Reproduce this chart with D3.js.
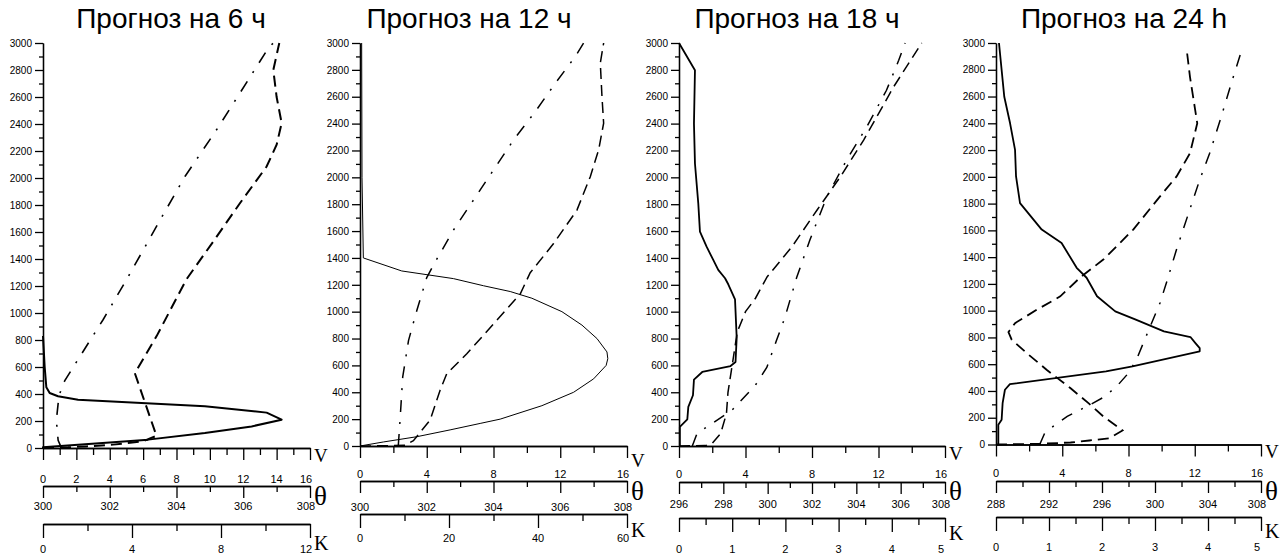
<!DOCTYPE html>
<html>
<head>
<meta charset="utf-8">
<script src="https://cdn.jsdelivr.net/npm/d3@7"></script>
<style>
  body { margin: 0; background: #fff; }
  svg { display: block; }
</style>
</head>
<body>
<svg width="1287" height="558"></svg>
<script>
var svg = d3.select("svg");

var titles = ["Прогноз на 6 ч", "Прогноз на 12 ч", "Прогноз на 18 ч", "Прогноз на 24 h"];

// height axis (m)
var heightLabels = [0, 200, 400, 600, 800, 1000, 1200, 1400, 1600, 1800, 2000, 2200, 2400, 2600, 2800, 3000];
var heightMinor = [100, 300, 500, 700, 900, 1100, 1300, 1500, 1700, 1900, 2100, 2300, 2500, 2700, 2900];

// bottom scales: labels and minor tick step
var vLabels = [[0, 2, 4, 6, 8, 10, 12, 14, 16], [0, 4, 8, 12, 16], [0, 4, 8, 12, 16], [0, 4, 8, 12, 16]];
var vStep = [1, 2, 2, 2];
var thetaLabels = [[300, 302, 304, 306, 308], [300, 302, 304, 306, 308], [296, 298, 300, 302, 304, 306, 308], [288, 292, 296, 300, 304, 308]];
var thetaStep = [1, 1, 1, 2];
var kLabels = [[0, 4, 8, 12], [0, 20, 40, 60], [0, 1, 2, 3, 4, 5], [0, 1, 2, 3, 4, 5]];
var kStep = [2, 10, 0.5, 0.5];

// 6 h
var p1SpeedH = [0, 5, 62, 111, 160, 210, 262, 309, 358, 383, 407, 450, 600, 830];
var p1Speed = [0, 0, 6.3, 9.7, 12.5, 14.3, 13.4, 9.7, 2.1, 0.9, 0.4, 0.2, 0.1, 0];
var p1ThetaH = [0, 5, 12, 25, 50, 90, 555, 575, 827, 1250, 1529, 1813, 2085, 2246, 2407, 2600, 2800, 3000];
var p1Theta = [300, 300.75, 301.3, 302.1, 303, 303.4, 302.75, 302.8, 303.4, 304.3, 305.1, 305.9, 306.7, 307, 307.15, 307, 306.9, 307.08];
var p1KH = [0, 57, 205, 328, 402, 500, 950, 1269, 1665, 2011, 2357, 2629, 2963, 3000];
var p1K = [0.83, 0.68, 0.6, 0.68, 0.75, 0.98, 2.7, 3.83, 5.18, 6.38, 7.8, 8.85, 10.13, 10.35];

// 12 h
var p2SpeedH = [0, 30, 69, 120, 168, 200, 300, 400, 500, 600, 650, 700, 800, 900, 1000, 1100, 1150, 1193, 1246, 1303, 1400, 2000, 3000];
var p2Speed = [0, 1.4, 3.4, 5.4, 7.2, 8.4, 10.9, 12.8, 14.0, 14.75, 14.85, 14.8, 14.2, 13.3, 12.1, 10.3, 9.0, 7.4, 5.6, 2.5, 0.2, 0.12, 0.1];
var p2ThetaH = [0, 2, 5, 40, 193, 415, 538, 686, 909, 1131, 1290, 1507, 1756, 2005, 2204, 2403, 2602, 2851, 3000];
var p2Theta = [300, 300.8, 301.35, 301.6, 302.1, 302.4, 302.6, 303.2, 304, 304.8, 305.1, 305.8, 306.5, 306.9, 307.15, 307.3, 307.25, 307.2, 307.3];
var p2KH = [0, 193, 514, 785, 1007, 1254, 1370, 1607, 1831, 2055, 2278, 2490, 2701, 2900, 3000];
var p2K = [8.6, 9, 9.6, 10.9, 12.75, 15, 16.9, 21, 25.5, 30, 34.5, 39.4, 43.9, 48.4, 50.25];

// 18 h
var p3SpeedH = [0, 143, 198, 291, 378, 494, 551, 595, 625, 807, 1091, 1202, 1249, 1311, 1385, 1484, 1596, 1806, 2103, 2400, 2797, 3000];
var p3Speed = [0.05, 0.05, 0.5, 0.56, 0.84, 0.9, 1.4, 3.1, 3.4, 3.47, 3.37, 2.97, 2.77, 2.36, 2.06, 1.66, 1.26, 1.16, 0.96, 0.9, 0.96, 0];
var p3ThetaH = [0, 3, 20, 94, 240, 400, 560, 720, 850, 1000, 1100, 1260, 1484, 1757, 2004, 2277, 2673, 3000];
var p3Theta = [296, 297.2, 297.5, 297.88, 298.14, 298.21, 298.36, 298.51, 298.63, 299, 299.45, 299.98, 301.1, 302.23, 303.28, 304.33, 305.68, 306.95];
var p3KH = [0, 94, 141, 264, 449, 585, 783, 956, 1252, 1534, 1856, 2128, 2376, 2648, 2871, 3000];
var p3K = [0.25, 0.34, 0.52, 0.99, 1.43, 1.65, 1.83, 1.99, 2.21, 2.46, 2.78, 3.15, 3.53, 3.9, 4.13, 4.25];

// 24 h
var p4SpeedH = [0, 147, 185, 309, 409, 451, 546, 584, 696, 720, 758, 803, 845, 933, 995, 1108, 1246, 1320, 1506, 1606, 1804, 2003, 2201, 2400, 2598, 3000];
var p4Speed = [0.14, 0.14, 0.34, 0.4, 0.54, 0.84, 6.64, 8.24, 12.3, 12.3, 12.04, 11.74, 10.14, 8.44, 7.2, 6.1, 5.47, 4.87, 3.96, 2.76, 1.45, 1.21, 1.15, 0.85, 0.5, 0.18];
var p4ThetaH = [0, 5, 15, 30, 47, 105, 207, 307, 420, 557, 682, 782, 840, 907, 1007, 1107, 1250, 1382, 1606, 1854, 2003, 2176, 2400, 2747, 2960];
var p4Theta = [288, 291.25, 293.63, 295.05, 296.55, 297.55, 296.13, 295, 293.63, 291.84, 290.33, 289.19, 288.94, 289.44, 291.08, 292.85, 294.38, 296.1, 298.36, 300.38, 301.63, 302.64, 303.19, 302.64, 302.38];
var p4KH = [0, 85, 140, 210, 288, 360, 450, 534, 640, 790, 1057, 1232, 1457, 1755, 1978, 2176, 2449, 2697, 2933];
var p4K = [0.825, 0.919, 1.094, 1.344, 1.731, 2.063, 2.313, 2.5, 2.656, 2.813, 3.094, 3.234, 3.406, 3.656, 3.844, 4.031, 4.25, 4.438, 4.625];

function pairs(hs, vs) {
    return hs.map(function (h, i) { return { h: h, v: vs[i] }; });
}

var series = [
    { speed: pairs(p1SpeedH, p1Speed), theta: pairs(p1ThetaH, p1Theta), k: pairs(p1KH, p1K) },
    { speed: pairs(p2SpeedH, p2Speed), theta: pairs(p2ThetaH, p2Theta), k: pairs(p2KH, p2K) },
    { speed: pairs(p3SpeedH, p3Speed), theta: pairs(p3ThetaH, p3Theta), k: pairs(p3KH, p3K) },
    { speed: pairs(p4SpeedH, p4Speed), theta: pairs(p4ThetaH, p4Theta), k: pairs(p4KH, p4K) }
];

// positions / styles
var layout = [
    { x0: 43, x1: 310, yBottom: 448, yTop: 43, titleX: 171, thetaY: 486, kY: 524, vTextY: 483, thetaTextY: 510, kTextY: 553,
      vLetterY: 462, thetaLetterY: 505, kLetterY: 550, solidW: 2, dashW: 2, dotW: 1.6, axisW: 2 },
    { x0: 360, x1: 627, yBottom: 446, yTop: 43, titleX: 469, thetaY: 481, kY: 514, vTextY: 478, thetaTextY: 511, kTextY: 542,
      vLetterY: 467, thetaLetterY: 500, kLetterY: 537, solidW: 1, dashW: 1.5, dotW: 1.5, axisW: 1.3 },
    { x0: 679, x1: 945, yBottom: 446, yTop: 43, titleX: 797, thetaY: 482, kY: 518, vTextY: 478, thetaTextY: 508, kTextY: 553,
      vLetterY: 460, thetaLetterY: 500, kLetterY: 540, solidW: 1.8, dashW: 1.5, dotW: 1.5, axisW: 1.3 },
    { x0: 996, x1: 1261, yBottom: 444.5, yTop: 43, titleX: 1124, thetaY: 481, kY: 517, vTextY: 477, thetaTextY: 508, kTextY: 551,
      vLetterY: 458, thetaLetterY: 500, kLetterY: 538, solidW: 1.8, dashW: 1.8, dotW: 1.5, axisW: 1.3 }
];

var tickFont = "'Liberation Sans Narrow', 'Arial Narrow', 'Liberation Sans', Arial, sans-serif";
var yFont = "'Liberation Sans', Arial, sans-serif";
var letterFont = "'Liberation Serif', 'Times New Roman', serif";

function minorTicks(labels, step) {
    var lo = labels[0], hi = labels[labels.length - 1];
    return d3.range(lo, hi + step / 2, step).filter(function (t) {
        return labels.indexOf(+t.toFixed(3)) < 0;
    });
}

function bottomAxis(g, scale, labels, step, y, majorLen, minorLen, textY, width) {
    var a = g.append("g").attr("transform", "translate(0," + y + ")");
    a.call(d3.axisBottom(scale).tickValues(minorTicks(labels, step)).tickSize(minorLen).tickSizeOuter(0).tickFormat(""));
    var b = g.append("g").attr("transform", "translate(0," + y + ")");
    b.call(d3.axisBottom(scale).tickValues(labels).tickSize(majorLen).tickSizeOuter(0).tickFormat(""));
    g.selectAll(".domain, .tick line").attr("stroke", "#000").attr("stroke-width", width);
    var last = labels[labels.length - 1];
    g.append("g").selectAll("text")
        .data(labels)
        .enter().append("text")
        .attr("x", function (d) { return scale(d) - (d === last ? 4 : 0); })
        .attr("y", textY)
        .attr("text-anchor", "middle")
        .attr("font-family", tickFont)
        .attr("font-size", 11)
        .attr("fill", "#000")
        .text(function (d) { return d; });
}

layout.forEach(function (L, i) {
    var s = series[i];
    var g = svg.append("g").attr("class", "panel");

    var y = d3.scaleLinear().domain([0, 3000]).range([L.yBottom, L.yTop]);
    var xV = d3.scaleLinear().domain(d3.extent(vLabels[i])).range([L.x0, L.x1]);
    var xT = d3.scaleLinear().domain(d3.extent(thetaLabels[i])).range([L.x0, L.x1]);
    var xK = d3.scaleLinear().domain(d3.extent(kLabels[i])).range([L.x0, L.x1]);

    // title
    g.append("text")
        .attr("x", L.titleX)
        .attr("y", 28)
        .attr("text-anchor", "middle")
        .attr("font-family", "'Liberation Sans', Arial, sans-serif")
        .attr("font-size", 28)
        .attr("fill", "#000")
        .text(titles[i]);

    // height axis
    var ya = g.append("g").attr("transform", "translate(" + L.x0 + ",0)");
    ya.call(d3.axisLeft(y).tickValues(heightMinor).tickSize(4).tickSizeOuter(0).tickFormat(""));
    var yb = g.append("g").attr("transform", "translate(" + L.x0 + ",0)");
    yb.call(d3.axisLeft(y).tickValues(heightLabels).tickSize(8).tickSizeOuter(0).tickPadding(3).tickFormat(d3.format("d")));
    yb.selectAll("text").attr("font-family", yFont).attr("font-size", 10).attr("fill", "#000");
    ya.selectAll(".domain, .tick line").attr("stroke", "#000").attr("stroke-width", L.axisW);
    yb.selectAll(".domain, .tick line").attr("stroke", "#000").attr("stroke-width", L.axisW);

    // the three bottom scales
    bottomAxis(g, xV, vLabels[i], vStep[i], L.yBottom, 12, 7, L.vTextY, 1.3);
    bottomAxis(g, xT, thetaLabels[i], thetaStep[i], L.thetaY, 12, 6, L.thetaTextY, 1.3);
    bottomAxis(g, xK, kLabels[i], kStep[i], L.kY, 14, 7, L.kTextY, 1.3);

    var letterX = L.x1 + 4;
    g.append("text").attr("x", letterX).attr("y", L.vLetterY)
        .attr("font-family", letterFont).attr("font-size", 19).attr("fill", "#000").text("V");
    g.append("text").attr("x", letterX).attr("y", L.thetaLetterY)
        .attr("font-family", letterFont).attr("font-size", 27).attr("fill", "#000").text("θ");
    g.append("text").attr("x", letterX).attr("y", L.kLetterY)
        .attr("font-family", letterFont).attr("font-size", 20).attr("fill", "#000").text("K");

    // profiles
    function line(scale) {
        return d3.line()
            .x(function (d) { return scale(d.v); })
            .y(function (d) { return y(d.h); });
    }

    g.append("path")
        .datum(s.speed)
        .attr("fill", "none")
        .attr("stroke", "#000")
        .attr("stroke-width", L.solidW)
        .attr("stroke-linejoin", "round")
        .attr("d", line(xV));

    g.append("path")
        .datum(s.theta)
        .attr("fill", "none")
        .attr("stroke", "#000")
        .attr("stroke-width", L.dashW)
        .attr("stroke-dasharray", "11,6")
        .attr("d", line(xT));

    g.append("path")
        .datum(s.k)
        .attr("fill", "none")
        .attr("stroke", "#000")
        .attr("stroke-width", L.dotW)
        .attr("stroke-dasharray", "12,10,2,10")
        .attr("d", line(xK));
});
</script>
</body>
</html>
